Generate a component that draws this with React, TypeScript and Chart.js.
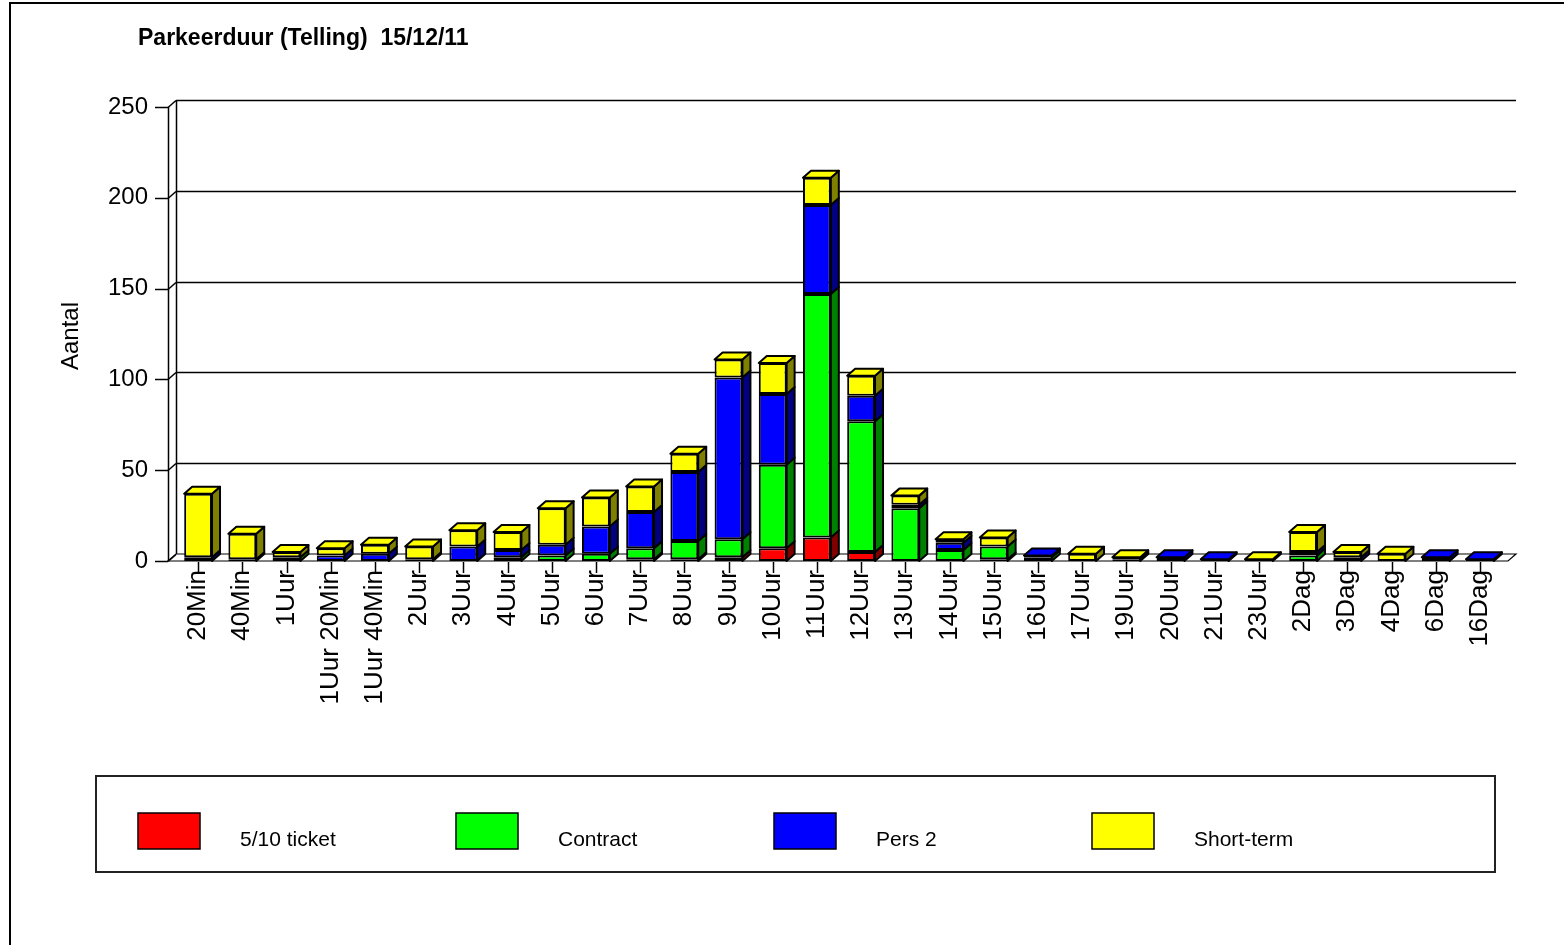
import React, { useEffect, useRef } from 'react';
import { Chart, registerables } from 'chart.js';

Chart.register(...registerables);

const categories = ['20Min', '40Min', '1Uur', '1Uur 20Min', '1Uur 40Min', '2Uur', '3Uur', '4Uur', '5Uur', '6Uur', '7Uur', '8Uur', '9Uur', '10Uur', '11Uur', '12Uur', '13Uur', '14Uur', '15Uur', '16Uur', '17Uur', '19Uur', '20Uur', '21Uur', '23Uur', '2Dag', '3Dag', '4Dag', '6Dag', '16Dag'];
const ticket510 = [0, 0, 0, 0, 0, 0, 0, 0, 0, 0, 1, 1, 2, 7, 13, 5, 0, 0, 1, 0, 0, 0, 0, 0, 0, 0, 0, 0, 0, 0];
const contract = [0, 0, 2, 0, 0, 0, 0, 2, 3, 4, 6, 10, 10, 46, 134, 72, 29, 6, 7, 2, 0, 0, 0, 0, 0, 3, 0, 0, 0, 0];
const pers2 = [2, 1, 0, 3, 4, 1, 8, 4, 6, 15, 20, 38, 89, 39, 49, 14, 2, 4, 0, 1, 0, 1, 2, 1, 0, 2, 2, 0, 2, 1];
const shortTerm = [35, 14, 3, 4, 5, 7, 9, 10, 20, 16, 14, 10, 10, 17, 15, 11, 5, 2, 5, 0, 4, 1, 0, 0, 1, 11, 3, 4, 0, 0];

const seriesLabels = ['5/10 ticket', 'Contract', 'Pers 2', 'Short-term'];
const seriesValues = [ticket510, contract, pers2, shortTerm];
const seriesColors = ['#ff0000', '#00ff00', '#0000ff', '#ffff00'];
const sideColors = ['#800000', '#008000', '#000080', '#808000'];

const titleText = 'Parkeerduur (Telling)  15/12/11';
const yTitle = 'Aantal';
const yMin = 0;
const yMax = 250;
const yStep = 50;

const FONT = '"Liberation Sans", Arial, sans-serif';
const DX = 8; // depth x
const DY = 7; // depth y

const decorPlugin = {
  id: 'decor3d',
  beforeDraw(chart: any) {
    const ctx = chart.ctx;
    const { left, right, top, bottom } = chart.chartArea;
    const ys = chart.scales.y;
    const xs = chart.scales.x;
    ctx.save();
    ctx.fillStyle = '#fff';
    ctx.fillRect(0, 0, chart.width, chart.height);
    // outer frame
    ctx.strokeStyle = '#000';
    ctx.lineWidth = 2;
    ctx.beginPath();
    ctx.moveTo(10, chart.height + 2);
    ctx.lineTo(10, 3);
    ctx.lineTo(chart.width + 2, 3);
    ctx.stroke();

    const frontLeft = left - DX;
    const frontRight = right + 6;
    const backRight = frontRight + DX;

    // floor
    ctx.lineWidth = 1.2;
    ctx.fillStyle = '#fff';
    ctx.beginPath();
    ctx.moveTo(frontLeft, bottom);
    ctx.lineTo(frontRight, bottom);
    ctx.lineTo(backRight, bottom - DY);
    ctx.lineTo(left, bottom - DY);
    ctx.closePath();
    ctx.fill();
    ctx.stroke();

    // back wall grid lines, wall diagonals, y tick marks
    ctx.lineWidth = 1.5;
    ys.ticks.forEach((t: any) => {
      const py = Math.round(ys.getPixelForValue(t.value)) + 0.5;
      if (t.value !== 0) {
        ctx.beginPath();
        ctx.moveTo(left, py - DY);
        ctx.lineTo(backRight, py - DY);
        ctx.stroke();
      }
      ctx.beginPath();
      ctx.moveTo(frontLeft, py);
      ctx.lineTo(left, py - DY);
      ctx.stroke();
      ctx.beginPath();
      ctx.moveTo(frontLeft - 13, py);
      ctx.lineTo(frontLeft, py);
      ctx.stroke();
    });
    // walls verticals
    ctx.beginPath();
    ctx.moveTo(left + 0.5, bottom - DY);
    ctx.lineTo(left + 0.5, top - DY);
    ctx.stroke();
    ctx.beginPath();
    ctx.moveTo(frontLeft + 0.5, bottom);
    ctx.lineTo(frontLeft + 0.5, top);
    ctx.stroke();

    // x tick marks
    ctx.lineWidth = 1.5;
    for (let i = 0; i < chart.data.labels.length; i++) {
      const px = Math.round(xs.getPixelForValue(i)) + 0.5;
      ctx.beginPath();
      ctx.moveTo(px, bottom + 1);
      ctx.lineTo(px, bottom + 12);
      ctx.stroke();
    }

    // title
    ctx.fillStyle = '#000';
    ctx.font = 'bold 23px ' + FONT;
    ctx.textAlign = 'left';
    ctx.textBaseline = 'middle';
    ctx.fillText(titleText, 138, 39);

    // y title
    ctx.save();
    ctx.translate(71, 336);
    ctx.rotate(-Math.PI / 2);
    ctx.font = '24px ' + FONT;
    ctx.textAlign = 'center';
    ctx.textBaseline = 'middle';
    ctx.fillText(yTitle, 0, 0);
    ctx.restore();

    ctx.restore();
  },
  afterDatasetsDraw(chart: any) {
    const ctx = chart.ctx;
    const n = chart.data.labels.length;
    const ds = chart.data.datasets;
    ctx.save();
    ctx.lineWidth = 2;
    ctx.strokeStyle = '#000';
    ctx.lineJoin = 'round';
    for (let j = 0; j < n; j++) {
      let topIdx = -1;
      ds.forEach((d: any, i: number) => {
        if (d.data[j]) topIdx = i;
      });
      ds.forEach((d: any, i: number) => {
        if (!d.data[j]) return;
        const el = chart.getDatasetMeta(i).data[j];
        const p = el.getProps(['x', 'y', 'base', 'width'], true);
        const l = p.x - p.width / 2;
        const r = p.x + p.width / 2;
        const t = Math.min(p.y, p.base);
        const b = Math.max(p.y, p.base);
        ctx.fillStyle = sideColors[i];
        ctx.beginPath();
        ctx.moveTo(r, b);
        ctx.lineTo(r + DX, b - DY);
        ctx.lineTo(r + DX, t - DY);
        ctx.lineTo(r, t);
        ctx.closePath();
        ctx.fill();
        ctx.stroke();
        if (i === topIdx) {
          ctx.fillStyle = seriesColors[i];
          ctx.beginPath();
          ctx.moveTo(l, t);
          ctx.lineTo(l + DX, t - DY);
          ctx.lineTo(r + DX, t - DY);
          ctx.lineTo(r, t);
          ctx.closePath();
          ctx.fill();
          ctx.stroke();
        }
      });
    }
    ctx.restore();
  },
  afterDraw(chart: any) {
    const ctx = chart.ctx;
    ctx.save();
    // legend box
    ctx.strokeStyle = '#222';
    ctx.lineWidth = 2;
    ctx.strokeRect(96, 776, 1399, 96);
    ctx.font = '21px ' + FONT;
    ctx.textAlign = 'left';
    ctx.textBaseline = 'middle';
    chart.data.datasets.forEach((d: any, i: number) => {
      const x0 = 138 + 318 * i;
      ctx.fillStyle = d.backgroundColor;
      ctx.fillRect(x0, 813, 62, 36);
      ctx.lineWidth = 1.5;
      ctx.strokeStyle = '#000';
      ctx.strokeRect(x0, 813, 62, 36);
      ctx.fillStyle = '#000';
      ctx.fillText(d.label, x0 + 102, 840);
    });
    ctx.restore();
  },
};

export default function App() {
  const ref = useRef<HTMLCanvasElement | null>(null);
  useEffect(() => {
    if (!ref.current) return;
    const chart = new Chart(ref.current, {
      type: 'bar',
      data: {
        labels: categories,
        datasets: seriesLabels.map((label, i) => ({
          label,
          data: seriesValues[i].map((v) => (v === 0 ? null : v)),
          backgroundColor: seriesColors[i],
          borderColor: '#000',
          borderWidth: 2,
          borderSkipped: false,
          barPercentage: 0.63,
          categoryPercentage: 1,
        })),
      },
      options: {
        responsive: false,
        animation: false,
        devicePixelRatio: 1,
        layout: { padding: { left: 0, right: 62, top: 107, bottom: 0 } },
        plugins: {
          legend: { display: false },
          title: { display: false },
          tooltip: { enabled: false },
        },
        scales: {
          x: {
            stacked: true,
            grid: { display: false, drawTicks: false },
            border: { display: false },
            ticks: {
              autoSkip: false,
              minRotation: 90,
              maxRotation: 90,
              padding: 9,
              color: '#000',
              font: { family: FONT, size: 26 },
            },
            afterFit: (scale: any) => {
              scale.height = 945 - 561;
            },
          },
          y: {
            stacked: true,
            min: yMin,
            max: yMax,
            grid: { display: false, drawTicks: false },
            border: { display: false },
            ticks: {
              stepSize: yStep,
              padding: 28,
              color: '#000',
              font: { family: FONT, size: 24 },
            },
            afterFit: (scale: any) => {
              scale.width = 176;
            },
          },
        },
      },
      plugins: [decorPlugin],
    } as any);
    return () => chart.destroy();
  }, []);
  return (
    <div style={{ position: 'fixed', left: 0, top: 0, width: 1564, height: 945, background: '#fff' }}>
      <canvas ref={ref} width={1564} height={945} style={{ display: 'block' }} />
    </div>
  );
}
